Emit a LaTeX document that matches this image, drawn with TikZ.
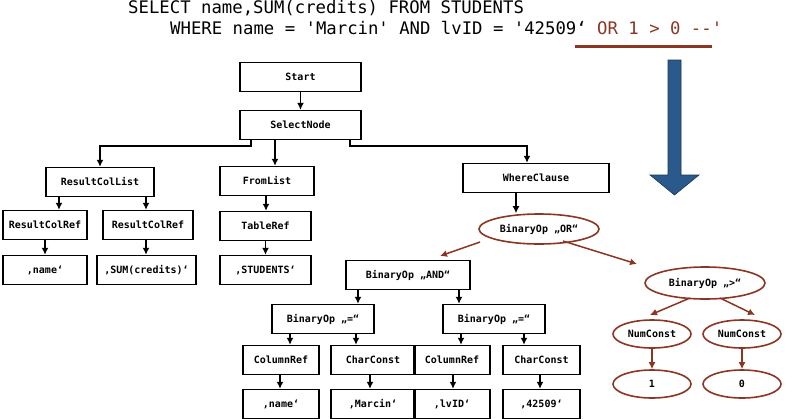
\documentclass[tikz,border=0pt]{standalone}
\usepackage{fontspec}
\setmonofont{DejaVu Sans Mono}
\usetikzlibrary{shapes.geometric,arrows.meta}
\begin{document}
\begin{tikzpicture}[x=1pt,y=-1pt,
  bx/.style={draw,line width=1.4pt,minimum width=#1,minimum height=29,inner sep=0pt,font=\ttfamily\bfseries\fontsize{10}{10}\selectfont},
  el/.style={draw=brn,ellipse,line width=1.6pt,minimum width=#1,minimum height=28,inner sep=0pt,font=\ttfamily\bfseries\fontsize{10}{10}\selectfont},
  ar/.style={-{Latex[length=7pt,width=7pt]},line width=1.5pt},
  br/.style={-{Latex[length=7pt,width=7pt]},line width=1.5pt,draw=brn}]
\definecolor{brn}{HTML}{8B3522}
\definecolor{blu}{HTML}{2A5A8C}
\useasboundingbox (0,0) rectangle (792,418);
\node[anchor=base west,font=\ttfamily\fontsize{17.3}{17}\selectfont,inner sep=0] (l1) at (128,13) {SELECT name,SUM(credits) FROM STUDENTS};
\node[anchor=base west,font=\ttfamily\fontsize{17.3}{17}\selectfont,inner sep=0] (l2) at (170,34) {WHERE name = 'Marcin' AND lvID = '42509‘ \textcolor{brn}{OR 1 > 0 --'}};
\fill[brn] (575,44.5) rectangle (712,47.5);
\filldraw[fill=blu,draw=blu!60!black,line width=0.6pt] (668,60) -- (681,60) -- (681,175) -- (699,175) -- (674.5,195) -- (650,175) -- (668,175) -- cycle;
\node[bx=121] (start) at (300.5,77) {Start};
\node[bx=121] (sel) at (300.5,125) {SelectNode};
\node[bx=108] (rcl) at (100,182) {ResultColList};
\node[bx=94] (fl) at (267,181) {FromList};
\node[bx=146] (wc) at (536,178) {WhereClause};
\node[bx=84] (rc1) at (45,225) {ResultColRef};
\node[bx=90] (rc2) at (148,225) {ResultColRef};
\node[bx=84] (v1) at (45,270) {‚name‘};
\node[bx=99] (v2) at (146.5,270) {‚SUM(credits)‘};
\node[bx=91] (tr) at (265.5,226) {TableRef};
\node[bx=91] (st) at (265.5,270) {‚STUDENTS‘};
\node[el=120,minimum height=30] (or) at (539,229) {BinaryOp „OR“};
\node[bx=124] (and) at (408,275) {BinaryOp „AND“};
\node[el=120,minimum height=32] (gt) at (705,283) {BinaryOp „>“};
\node[bx=102] (eq1) at (323,319) {BinaryOp „=“};
\node[bx=102] (eq2) at (494,319) {BinaryOp „=“};
\node[bx=76] (cr1) at (281,360) {ColumnRef};
\node[bx=84] (cc1) at (373,360) {CharConst};
\node[bx=76] (cr2) at (452,360) {ColumnRef};
\node[bx=77] (cc2) at (541.5,360) {CharConst};
\node[bx=76] (n1) at (281,404) {‚name‘};
\node[bx=84] (n2) at (373,404) {‚Marcin‘};
\node[bx=76] (n3) at (452,404) {‚lvID‘};
\node[bx=77] (n4) at (541.5,404) {‚42509‘};
\node[el=78] (nc1) at (652,334) {NumConst};
\node[el=78] (nc2) at (742,334) {NumConst};
\node[el=78] (k1) at (652,384) {1};
\node[el=78] (k0) at (742,384) {0};
\draw[ar] (start) -- (sel);
\draw[ar] (sel.south -| 251,0) |- (100,146) -- (rcl.north -| 100,0);
\draw[ar] (sel.south -| 275,0) -- (fl.north -| 275,0);
\draw[ar] (sel.south -| 350,0) |- (527,146) -- (wc.north -| 527,0);
\draw[ar] (rcl.south -| 59,0) -- (rc1.north -| 59,0);
\draw[ar] (rcl.south -| 146,0) -- (rc2.north -| 146,0);
\draw[ar] (rc1) -- (v1);
\draw[ar] (rc2.south -| 146,0) -- (v2.north -| 146,0);
\draw[ar] (fl.south -| 266,0) -- (tr.north -| 266,0);
\draw[ar] (tr) -- (st);
\draw[ar] (wc.south -| 516,0) -- (or.north -| 516,0);
\draw[br] (480,242) -- (440,256);
\draw[br] (563,241) -- (637,264);
\draw[ar] (and.south -| 358,0) -- (eq1.north -| 358,0);
\draw[ar] (and.south -| 459,0) -- (eq2.north -| 459,0);
\draw[ar] (eq1.south -| 290,0) -- (cr1.north -| 290,0);
\draw[ar] (eq1.south -| 356,0) -- (cc1.north -| 356,0);
\draw[ar] (eq2.south -| 461,0) -- (cr2.north -| 461,0);
\draw[ar] (eq2.south -| 524,0) -- (cc2.north -| 524,0);
\draw[ar] (cr1.south -| 280,0) -- (n1.north -| 280,0);
\draw[ar] (cc1.south -| 370,0) -- (n2.north -| 370,0);
\draw[ar] (cr2.south -| 453,0) -- (n3.north -| 453,0);
\draw[ar] (cc2.south -| 540,0) -- (n4.north -| 540,0);
\draw[br] (690,298) -- (650,315);
\draw[br] (720,298) -- (755,315);
\draw[br] (nc1) -- (k1);
\draw[br] (nc2) -- (k0);
\end{tikzpicture}
\end{document}
